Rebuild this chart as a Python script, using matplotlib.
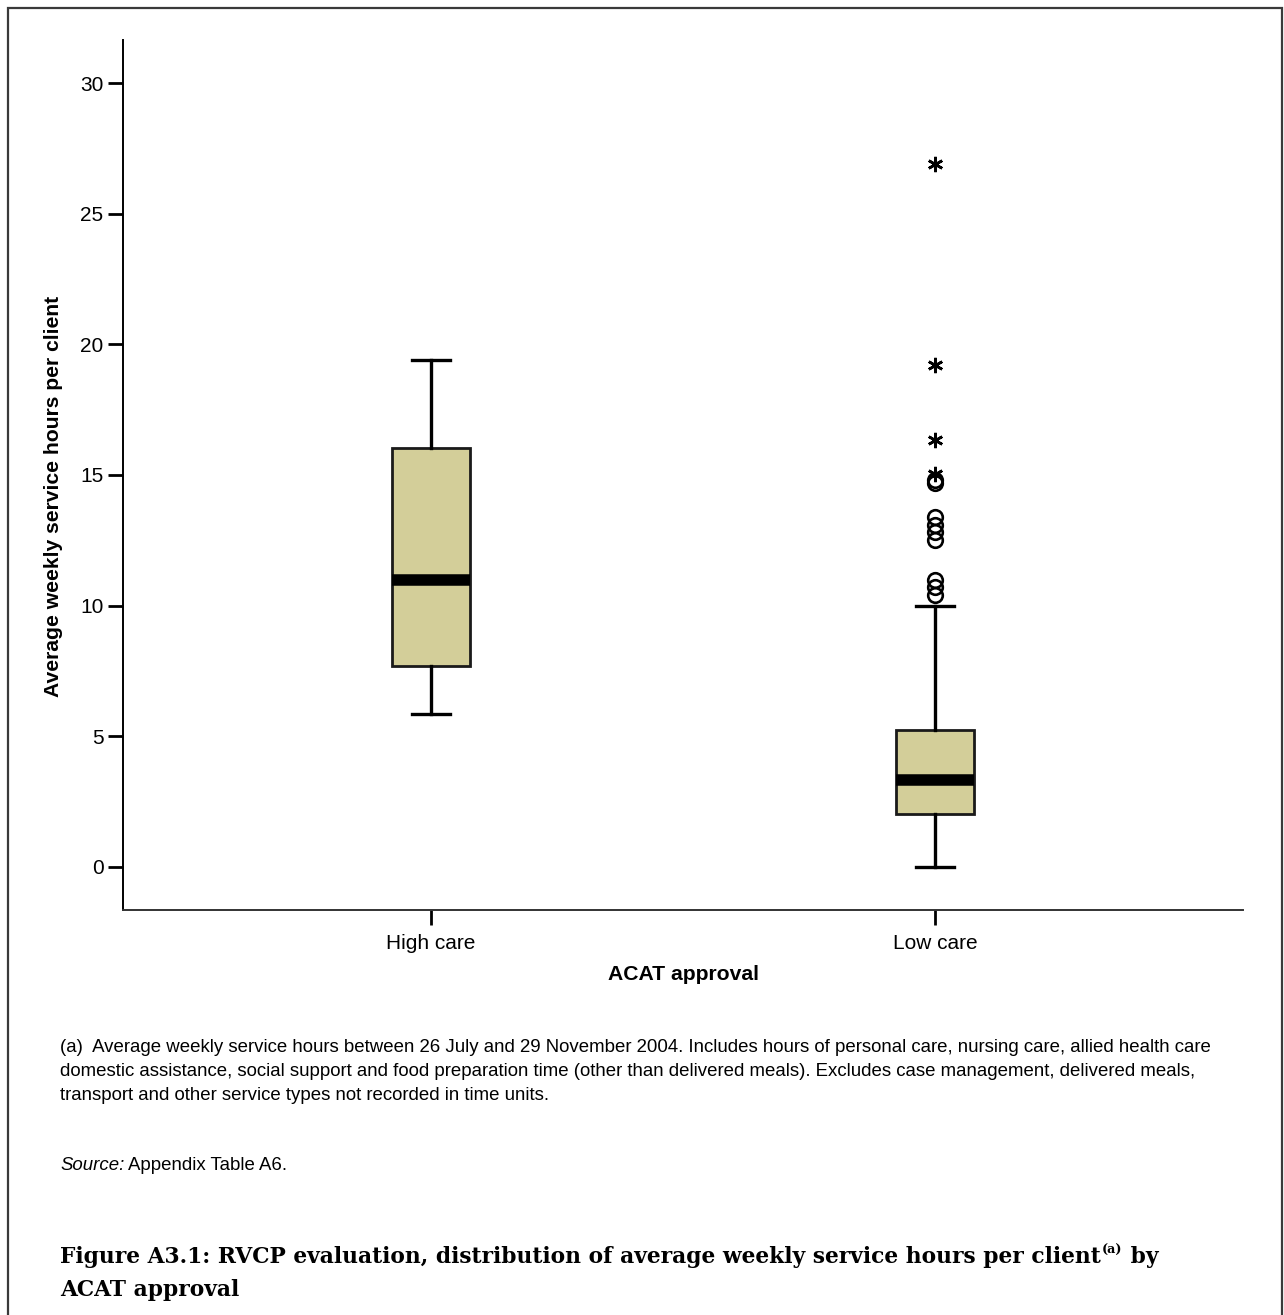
import matplotlib
matplotlib.use("Agg")
import matplotlib.pyplot as plt
from matplotlib.patches import Rectangle

plt.rcParams["font.family"] = ["Liberation Sans", "DejaVu Sans"]

# Box plot summary per ACAT approval group (hours per week)
groups = ["High care", "Low care"]
q1 = [7.7, 2.03]
median = [11.0, 3.33]
q3 = [16.05, 5.25]
whisker_lo = [5.85, 0.0]
whisker_hi = [19.4, 10.0]
# outliers (circles) and extreme values (asterisks)
outliers = [[], [10.4, 10.7, 11.0, 12.5, 12.8, 13.1, 13.4, 14.7, 14.8]]
extremes = [[], [15.05, 16.35, 19.2, 26.9]]

W, H = 1284, 1315
fig = plt.figure(figsize=(W / 100, H / 100), dpi=100)

# page border
fig.patches.append(Rectangle((8 / W, -0.1), 1274 / W, 1.1 - 8 / H, transform=fig.transFigure,
                             fill=False, edgecolor="#3a3a3a", linewidth=1.6))

ax = fig.add_axes([123 / W, (H - 910) / H, 1120 / W, 870 / H])

stats = []
for i in range(len(groups)):
    stats.append(dict(med=median[i], q1=q1[i], q3=q3[i], whislo=whisker_lo[i],
                      whishi=whisker_hi[i], fliers=outliers[i], label=groups[i]))

pos = [1, 2]
ax.bxp(stats, positions=pos, widths=0.153, patch_artist=True,
       boxprops=dict(facecolor="#d3ce99", edgecolor="#1a1a1a", linewidth=2.0),
       medianprops=dict(color="black", linewidth=8.3, solid_capstyle="butt"),
       whiskerprops=dict(color="black", linewidth=2.4),
       capprops=dict(color="black", linewidth=2.4),
       flierprops=dict(marker="o", markersize=10.5, markerfacecolor="none",
                       markeredgecolor="black", markeredgewidth=1.9))

for p, ext in zip(pos, extremes):
    if ext:
        ax.plot([p] * len(ext), ext, linestyle="none", marker=(6, 2, 0),
                markersize=11, markeredgewidth=1.9, color="black")

ax.set_xlim(0.389, 2.611)
ax.set_ylim(-1.65, 31.65)
ax.set_yticks([0, 5, 10, 15, 20, 25, 30])
ax.set_xticks(pos)
ax.set_xticklabels(groups)

for s in ["top", "right"]:
    ax.spines[s].set_visible(False)
ax.spines["left"].set_color("black")
ax.spines["left"].set_linewidth(1.4)
ax.spines["bottom"].set_color("#333333")
ax.spines["bottom"].set_linewidth(1.4)
ax.tick_params(axis="both", length=11, width=2.0, color="black", labelsize=15, pad=3)
ax.tick_params(axis="x", pad=6)

ax.set_ylabel("Average weekly service hours per client", fontsize=15.2, fontweight="bold")
ax.yaxis.set_label_coords(-0.054, 0.475)
ax.set_xlabel("ACAT approval", fontsize=15.2, fontweight="bold", labelpad=9)

# footnote and source
fs = 13.4
notes = [
    "(a)  Average weekly service hours between 26 July and 29 November 2004. Includes hours of personal care, nursing care, allied health care",
    "domestic assistance, social support and food preparation time (other than delivered meals). Excludes case management, delivered meals,",
    "transport and other service types not recorded in time units.",
]
for k, line in enumerate(notes):
    fig.text(60 / W, 1 - (1048 + 24 * k) / H, line, fontsize=fs, va="center", ha="left")

src = fig.text(60 / W, 1 - 1166 / H, "Source:", fontsize=fs, style="italic", va="center", ha="left")
fig.canvas.draw()
r = fig.canvas.get_renderer()
bb = src.get_window_extent(r)
fig.text((bb.x1 + 4) / W, 1 - 1166 / H, "Appendix Table A6.", fontsize=fs, va="center", ha="left")

# caption, with a superscript note marker
serif = ["DejaVu Serif"]
cs = 15.7
t1 = fig.text(60 / W, 1 - 1263 / H, "Figure A3.1: RVCP evaluation, distribution of average weekly service hours per client",
              fontsize=cs, fontweight="bold", family=serif, va="baseline", ha="left")
fig.canvas.draw()
bb = t1.get_window_extent(r)
sup = fig.text((bb.x1 + 1) / W, 1 - 1254 / H, "(a)", fontsize=9.2, fontweight="bold", family=serif,
               va="baseline", ha="left")
fig.canvas.draw()
bb2 = sup.get_window_extent(r)
fig.text((bb2.x1 + 1) / W, 1 - 1263 / H, " by", fontsize=cs, fontweight="bold", family=serif,
         va="baseline", ha="left")
fig.text(60 / W, 1 - 1296 / H, "ACAT approval", fontsize=cs, fontweight="bold", family=serif,
         va="baseline", ha="left")

fig.savefig("out.png", dpi=100)
